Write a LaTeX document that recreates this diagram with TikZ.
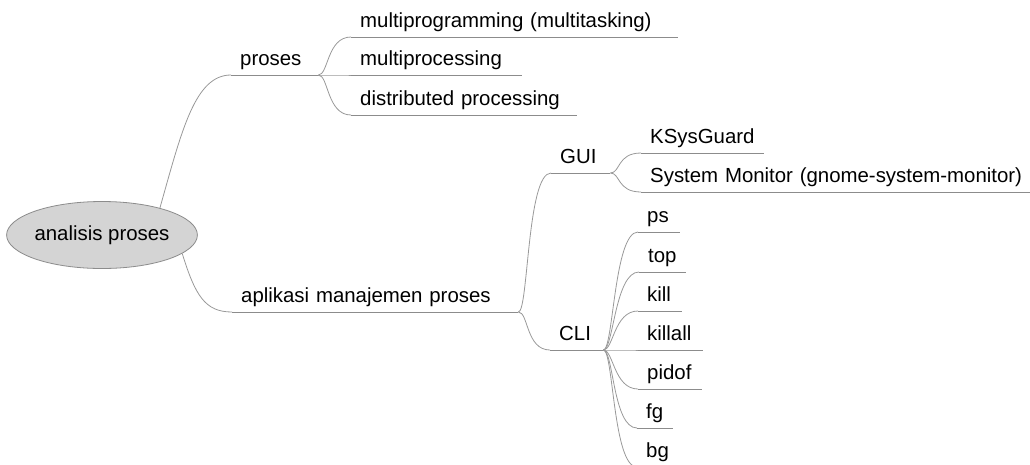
\documentclass[tikz,border=0pt]{standalone}
\usepackage{fontspec}
\setmainfont{Liberation Sans}
\usetikzlibrary{shapes.geometric}

\begin{document}
\begin{tikzpicture}[x=1pt,y=-1pt,font=\fontsize{20.4}{24}\selectfont,
  topic/.style={anchor=south west,inner xsep=9pt,inner ysep=4.5pt,text depth=5pt,align=left},
  uline/.style={draw=black!45,line width=.8pt},
  link/.style={draw=black!40,line width=.8pt}]
\useasboundingbox (0,0) rectangle (1030,464);
\node[ellipse,fill=black!17,draw=black!45,line width=.8pt,minimum width=184,minimum height=67,inner sep=0pt] (root) at (102,235) {analisis proses};
\foreach \n/\a/\b/\y/\t in {proses/231/318/75/proses,
  mprog/351/678/37/multiprogramming (multitasking),
  mproc/351/522/75/multiprocessing,
  dist/351/577/115/distributed processing,
  apl/232/518/312/aplikasi manajemen proses,
  gui/551/610/173/GUI, cli/550/603/350/CLI,
  ksys/641/764/153/KSysGuard,
  sysmon/641/1045/192/System Monitor (gnome-system-monitor),
  ps/638/680/232/ps, top/639/686/272/top, kill/638/682/311/kill,
  killall/638/703/350/killall, pidof/638/702/389/pidof,
  fg/637/673/428/fg, bg/637/690/467/bg} {
  \pgfmathsetmacro\w{\b-\a-18}
  \node[topic,text width=\w pt] (\n) at (\a,\y) {\t};
  \draw[uline] (\n.south west) -- (\n.south east);
}
\draw[link] (root.25) .. controls +(22,-78) and +(-36,0) .. (proses.south west);
\draw[link] (root.-13) .. controls +(13,42) and +(-27,0) .. (apl.south west);
\foreach \p/\c in {proses/mprog,proses/mproc,proses/dist,apl/gui,apl/cli,gui/ksys,gui/sysmon,
  cli/ps,cli/top,cli/kill,cli/killall,cli/pidof,cli/fg,cli/bg}
  \draw[link] (\p.south east) .. controls +(10,0) and +(-24,0) .. (\c.south west);
\end{tikzpicture}
\end{document}
